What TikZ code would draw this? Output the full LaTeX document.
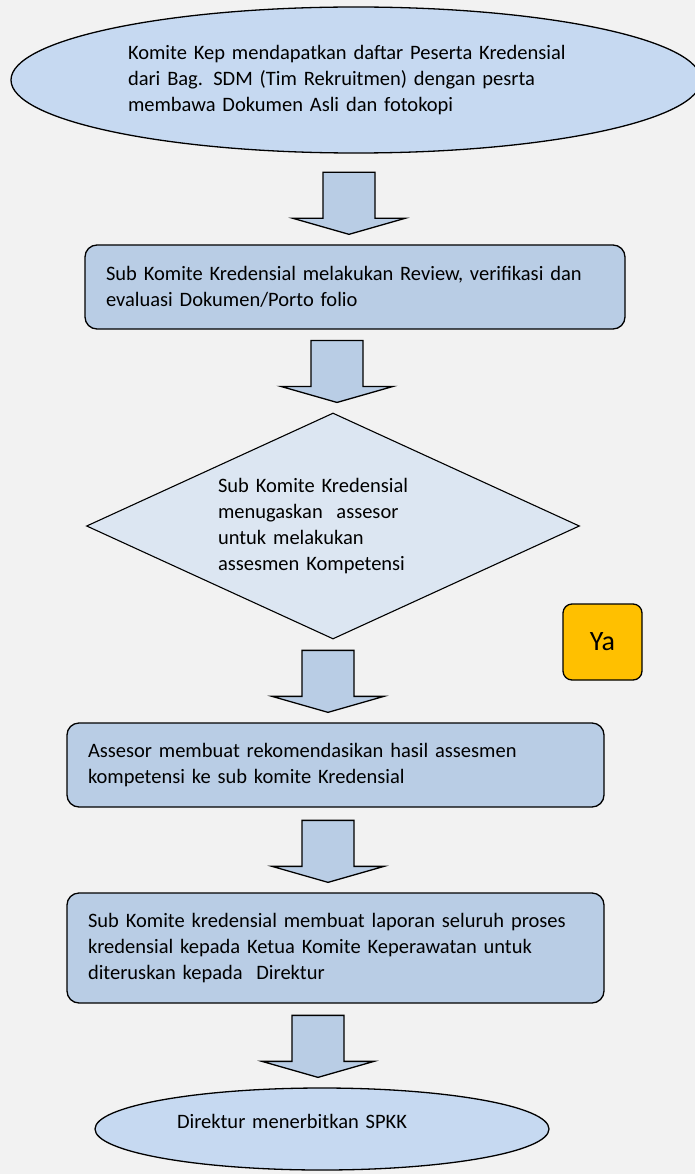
\documentclass[tikz,border=0pt]{standalone}
\usepackage{fontspec}
\setmainfont{Carlito}
\usepackage{tikz}
\usetikzlibrary{shapes.geometric, calc}
\definecolor{bgcolor}{RGB}{242,242,242}
\definecolor{boxcolor}{RGB}{185,205,229}
\definecolor{ovalcolor}{RGB}{198,217,241}
\definecolor{diamondcolor}{RGB}{220,230,242}
\definecolor{yacolor}{RGB}{255,192,0}
\newcommand{\bodyfont}{\fontsize{20.5}{26}\selectfont}
% block arrow pointing down at node #2, shaft centred on x=#1
\newcommand{\blockdown}[2]{%
  \draw[blockarrow] let \p1=(#2.north) in
    (#1pt-26pt,\y1+72pt) -- (#1pt+26pt,\y1+72pt) -- (#1pt+26pt,\y1+26pt) -- (#1pt+56pt,\y1+26pt)
    -- (#1pt,\y1+10pt) -- (#1pt-56pt,\y1+26pt) -- (#1pt-26pt,\y1+26pt) -- cycle;}

\begin{document}
\begin{tikzpicture}[
    x=1pt, y=1pt,
    oval/.style={draw, line width=1.3pt, fill=ovalcolor, ellipse, inner sep=0pt, font=\bodyfont, align=left},
    stepbox/.style={draw, line width=1.3pt, fill=boxcolor, rounded corners=12pt, inner xsep=21pt, inner ysep=0pt, font=\bodyfont, align=left},
    decision/.style={draw, line width=1.1pt, fill=diamondcolor, diamond, aspect=2.2, inner sep=0pt, font=\bodyfont, align=left},
    answer/.style={draw, line width=1.3pt, fill=yacolor, rounded corners=9pt, minimum width=79pt, minimum height=76pt, font=\fontsize{28}{32}\selectfont},
    blockarrow/.style={line width=1.3pt, fill=boxcolor, line join=miter}
]
    % Page
    \useasboundingbox (0,0) rectangle (695,-1174);
    \fill[bgcolor] (0,0) rectangle (695,-1174);

    % Start
    \node[oval, minimum width=690pt, minimum height=146pt, text width=456pt] (start) at (356,-80)
        {Komite Kep mendapatkan daftar Peserta Kredensial\\dari Bag. SDM (Tim Rekruitmen) dengan pesrta\\membawa Dokumen Asli dan fotokopi};

    % Steps
    \node[stepbox, text width=498pt, minimum height=84pt] (review) at (355,-287)
        {Sub Komite Kredensial melakukan Review, verifikasi dan\\evaluasi Dokumen/Porto folio};
    \node[decision, minimum width=493pt, minimum height=226pt, text width=230pt] (assign) at (333,-526)
        {Sub Komite Kredensial\\menugaskan\ \ assesor\\untuk melakukan\\assesmen Kompetensi};
    \node[answer] (ya) at (602.5,-642) {Ya};
    \node[stepbox, text width=495pt, minimum height=84pt] (recom) at (335.5,-765)
        {Assesor membuat rekomendasikan hasil assesmen\\kompetensi ke sub komite Kredensial};
    \node[stepbox, text width=495pt, minimum height=110pt] (report) at (335.5,-948)
        {Sub Komite kredensial membuat laporan seluruh proses\\kredensial kepada Ketua Komite Keperawatan untuk\\diteruskan kepada\ \ Direktur};

    % End
    \node[oval, minimum width=454pt, minimum height=82pt, text width=290pt, text depth=15pt] (spkk) at (322,-1129)
        {Direktur menerbitkan SPKK};

    % Arrows
    \blockdown{349}{review}
    \blockdown{337}{assign}
    \blockdown{328}{recom}
    \blockdown{328}{report}
    \blockdown{318}{spkk}
\end{tikzpicture}
\end{document}
